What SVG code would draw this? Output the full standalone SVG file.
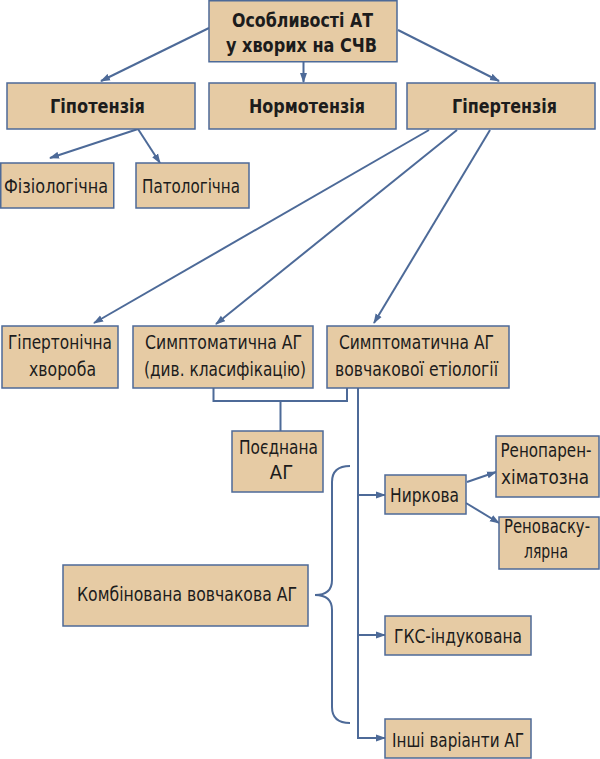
<svg xmlns="http://www.w3.org/2000/svg" width="600" height="759" viewBox="0 0 600 759">
<style>
.box{fill:#e6cba4;stroke:#4d6a98;stroke-width:1.5}
.t{font-family:"Liberation Sans Narrow","DejaVu Sans Condensed","Liberation Sans",sans-serif;fill:#1c1c1c;text-anchor:middle;font-size:20px}
.b{font-weight:bold;font-size:20px}
.c{fill:none;stroke:#4d6a98;stroke-width:2}
</style>
<defs>
<marker id="ah" markerUnits="userSpaceOnUse" markerWidth="10" markerHeight="8" refX="9" refY="4" orient="auto">
<path d="M0,0.5 L10,4 L0,7.5 z" fill="#4d6a98"/>
</marker>
</defs>
<rect width="600" height="759" fill="#fff"/>
<g id="connectors">
<line class="c" x1="209" y1="28" x2="101" y2="81" marker-end="url(#ah)"/>
<line class="c" x1="303.5" y1="62" x2="303.5" y2="82" marker-end="url(#ah)"/>
<line class="c" x1="398" y1="30" x2="499" y2="81" marker-end="url(#ah)"/>
<line class="c" x1="138" y1="129" x2="50" y2="158" marker-end="url(#ah)"/>
<line class="c" x1="138" y1="129" x2="160" y2="163" marker-end="url(#ah)"/>
<line class="c" x1="429" y1="130" x2="94" y2="323" marker-end="url(#ah)"/>
<line class="c" x1="457" y1="130" x2="216" y2="324" marker-end="url(#ah)"/>
<line class="c" x1="490" y1="130" x2="374" y2="323" marker-end="url(#ah)"/>
<polyline class="c" points="213.5,388 213.5,401 347,401 347,388"/>
<line class="c" x1="280.5" y1="401" x2="280.5" y2="431"/>
<polyline class="c" points="358,388 358,738 385,738" marker-end="url(#ah)"/>
<line class="c" x1="358" y1="495" x2="385" y2="495" marker-end="url(#ah)"/>
<line class="c" x1="358" y1="635" x2="385" y2="635" marker-end="url(#ah)"/>
<line class="c" x1="467" y1="482" x2="496" y2="472" marker-end="url(#ah)"/>
<line class="c" x1="466" y1="503" x2="499" y2="523" marker-end="url(#ah)"/>
<path class="c" d="M350,466 C338,466 332,472 332,482 L332,580 C332,590 326,595 315,595 C326,595 332,600 332,610 L332,707 C332,717 338,723 350,723"/>
</g>
<g id="n-root"><rect class="box" x="209" y="0.75" width="188" height="61"/>
<text class="t b" x="302.5" y="27" textLength="141" lengthAdjust="spacingAndGlyphs">Особливості АТ</text><text class="t b" x="301.5" y="52" textLength="151" lengthAdjust="spacingAndGlyphs">у хворих на СЧВ</text></g>
<g id="n-hypo"><rect class="box" x="7" y="83" width="188" height="46"/><text class="t b" x="97.5" y="113" textLength="95" lengthAdjust="spacingAndGlyphs">Гіпотензія</text></g>
<g id="n-normo"><rect class="box" x="209" y="83" width="187" height="46"/><text class="t b" x="307" y="113" textLength="116" lengthAdjust="spacingAndGlyphs">Нормотензія</text></g>
<g id="n-hyper"><rect class="box" x="407" y="83" width="188" height="46"/><text class="t b" x="504.5" y="113" textLength="105" lengthAdjust="spacingAndGlyphs">Гіпертензія</text></g>
<g id="n-fiz"><rect class="box" x="0.75" y="163" width="113" height="45"/><text class="t" x="56" y="193" textLength="104" lengthAdjust="spacingAndGlyphs">Фізіологічна</text></g>
<g id="n-pat"><rect class="box" x="136" y="163" width="113" height="45"/><text class="t" x="191" y="193" textLength="98" lengthAdjust="spacingAndGlyphs">Патологічна</text></g>
<g id="n-gh"><rect class="box" x="2" y="326" width="116" height="62"/><text class="t" x="60" y="349" textLength="104" lengthAdjust="spacingAndGlyphs">Гіпертонічна</text><text class="t" x="62.5" y="376" textLength="67" lengthAdjust="spacingAndGlyphs">хвороба</text></g>
<g id="n-sag"><rect class="box" x="133" y="326" width="180" height="62"/><text class="t" x="223.5" y="349" textLength="157" lengthAdjust="spacingAndGlyphs">Симптоматична АГ</text><text class="t" x="225" y="376" textLength="162" lengthAdjust="spacingAndGlyphs">(див. класифікацію)</text></g>
<g id="n-sagv"><rect class="box" x="327" y="326" width="182" height="62"/><text class="t" x="416.5" y="349" textLength="155" lengthAdjust="spacingAndGlyphs">Симптоматична АГ</text><text class="t" x="416.5" y="376" textLength="163" lengthAdjust="spacingAndGlyphs">вовчакової етіології</text></g>
<g id="n-poed"><rect class="box" x="232" y="431" width="91" height="61"/><text class="t" x="278.5" y="454" textLength="79" lengthAdjust="spacingAndGlyphs">Поєднана</text><text class="t" x="281.5" y="479">АГ</text></g>
<g id="n-nyrk"><rect class="box" x="385" y="475" width="81" height="39"/><text class="t" x="424.5" y="502" textLength="69" lengthAdjust="spacingAndGlyphs">Ниркова</text></g>
<g id="n-renopar"><rect class="box" x="496" y="436" width="103" height="61"/><text class="t" x="546" y="457" textLength="91" lengthAdjust="spacingAndGlyphs">Ренопарен-</text><text class="t" x="545" y="484" textLength="88" lengthAdjust="spacingAndGlyphs">хіматозна</text></g>
<g id="n-renovas"><rect class="box" x="499" y="517" width="100" height="52"/><text class="t" x="547" y="533" textLength="86" lengthAdjust="spacingAndGlyphs">Реноваску-</text><text class="t" x="546" y="558" textLength="44" lengthAdjust="spacingAndGlyphs">лярна</text></g>
<g id="n-komb"><rect class="box" x="63" y="565" width="245" height="61"/><text class="t" x="187" y="601" textLength="220" lengthAdjust="spacingAndGlyphs">Комбінована вовчакова АГ</text></g>
<g id="n-gks"><rect class="box" x="385" y="616" width="146" height="39"/><text class="t" x="458" y="643" textLength="128" lengthAdjust="spacingAndGlyphs">ГКС-індукована</text></g>
<g id="n-inshi"><rect class="box" x="385" y="719" width="146" height="39"/><text class="t" x="458" y="747" textLength="132" lengthAdjust="spacingAndGlyphs">Інші варіанти АГ</text></g>
</svg>
